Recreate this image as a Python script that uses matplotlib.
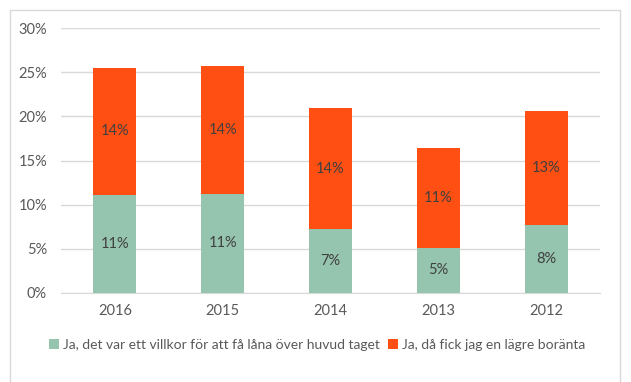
import matplotlib
matplotlib.use("Agg")
import matplotlib.pyplot as plt
from matplotlib.lines import Line2D

years = ["2016", "2015", "2014", "2013", "2012"]
villkor = [11.1, 11.25, 7.2, 5.15, 7.75]
lagre_ranta = [14.4, 14.5, 13.7, 11.3, 12.8]
labels_villkor = ["11%", "11%", "7%", "5%", "8%"]
labels_ranta = ["14%", "14%", "14%", "11%", "13%"]
series_names = ["Ja, det var ett villkor för att få låna över huvud taget",
                "Ja, då fick jag en lägre boränta"]
yticks = [0, 5, 10, 15, 20, 25, 30]

green = "#95C4AF"
orange = "#FF4F12"
txt = "#595959"

plt.rcParams['font.family'] = ['Lato', 'DejaVu Sans']

fig = plt.figure(figsize=(6.31, 3.82), dpi=100)
ax = fig.add_axes([61/631, 1 - 293/382, 539/631, 265/382])

x = list(range(len(years)))
b1 = ax.bar(x, villkor, width=0.4, color=green, label=series_names[0], zorder=3)
b2 = ax.bar(x, lagre_ranta, width=0.4, bottom=villkor, color=orange, label=series_names[1], zorder=3)

for i in x:
    ax.text(i, villkor[i] / 2, labels_villkor[i], ha="center", va="center",
            fontsize=10.5, color="#404040", zorder=4)
    ax.text(i, villkor[i] + lagre_ranta[i] / 2, labels_ranta[i], ha="center", va="center",
            fontsize=10.5, color="#404040", zorder=4)

ax.set_xlim(-0.5, len(years) - 0.5)
ax.set_ylim(0, 30)
ax.set_yticks(yticks)
ax.set_yticklabels([f"{t}%" for t in yticks])
ax.set_xticks(x)
ax.set_xticklabels(years)
ax.tick_params(axis="both", length=0, labelsize=10.5, colors=txt)
ax.tick_params(axis="y", pad=10)
ax.tick_params(axis="x", pad=8)
ax.grid(axis="y", color="#D9D9D9", linewidth=1, zorder=0)
for s in ["top", "right", "left"]:
    ax.spines[s].set_visible(False)
ax.spines["bottom"].set_color("#D9D9D9")

leg = fig.legend(handles=[b1, b2], loc="center", bbox_to_anchor=(317/631, 1 - 345/382),
                 ncol=2, frameon=False, fontsize=10, handlelength=0.7, handleheight=0.7,
                 handletextpad=0.3, columnspacing=0.6, labelcolor=txt)

bx = [10/631, 10/631, 620/631, 620/631]
by = [0, 1 - 10/382, 1 - 10/382, 0]
fig.add_artist(Line2D(bx, by, transform=fig.transFigure, color="#D9D9D9", linewidth=1))

fig.savefig("out.png", dpi=100)
